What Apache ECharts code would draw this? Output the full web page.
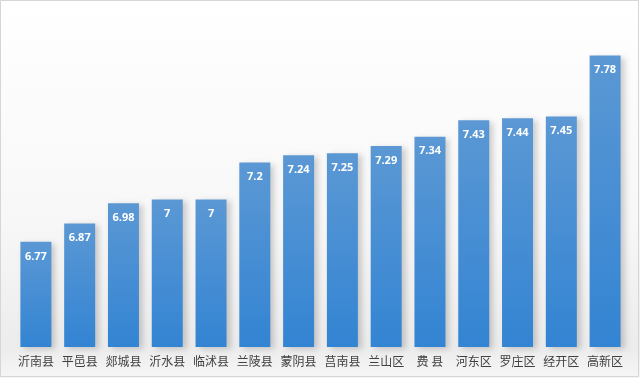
<!DOCTYPE html>
<html>
<head>
<meta charset="utf-8">
<script src="https://cdn.jsdelivr.net/npm/echarts@6/dist/echarts.min.js"></script>
<style>
  html, body { margin: 0; padding: 0; background: #fff; }
  #main { width: 640px; height: 378px; }
</style>
</head>
<body>
<div id="main"></div>
<script>
// 区县名称
const categories = ['沂南县', '平邑县', '郯城县', '沂水县', '临沭县', '兰陵县', '蒙阴县', '莒南县', '兰山区', '费 县', '河东区', '罗庄区', '经开区', '高新区']
// 数值
const values = [6.77, 6.87, 6.98, 7, 7, 7.2, 7.24, 7.25, 7.29, 7.34, 7.43, 7.44, 7.45, 7.78]
// y轴范围
const yMin = 6.2
const yMax = 8

const myChart = echarts.init(document.getElementById('main'))

const option = {
  backgroundColor: {
    type: 'linear', x: 0, y: 0, x2: 0, y2: 1,
    colorStops: [
      { offset: 0, color: '#ffffff' },
      { offset: 0.6, color: '#f7f7f7' },
      { offset: 0.92, color: '#ececec' },
      { offset: 1, color: '#f6f6f6' }
    ]
  },
  animation: false,
  // 外框
  graphic: [
    {
      type: 'rect',
      shape: { x: 0.5, y: 0.5, width: 638, height: 376 },
      style: { fill: 'none', stroke: '#d6d6d6', lineWidth: 1 }
    }
  ],
  grid: {
    top: 15,
    left: 14,
    right: 13,
    bottom: 31
  },
  xAxis: {
    type: 'category',
    data: categories,
    axisLine: { show: false },
    axisTick: { show: false },
    axisLabel: {
      interval: 0,
      color: '#404040',
      fontSize: 12,
      margin: 8,
      fontFamily: 'Noto Sans CJK SC'
    }
  },
  yAxis: {
    type: 'value',
    min: yMin,
    max: yMax,
    show: false,
    splitLine: { show: false }
  },
  series: [
    {
      type: 'bar',
      data: values,
      barWidth: 31,
      itemStyle: {
        color: {
          type: 'linear', x: 0, y: 0, x2: 0, y2: 1,
          colorStops: [
            { offset: 0, color: '#5b98d4' },
            { offset: 1, color: '#3384d3' }
          ]
        },
        shadowColor: 'rgba(0,0,0,0.18)',
        shadowBlur: 6,
        shadowOffsetX: 4,
        shadowOffsetY: 2
      },
      label: {
        show: true,
        position: 'insideTop',
        distance: 9,
        color: '#ffffff',
        fontSize: 11,
        fontWeight: 'bold',
        fontFamily: 'Open Sans'
      }
    }
  ]
}

myChart.setOption(option)
</script>
</body>
</html>
